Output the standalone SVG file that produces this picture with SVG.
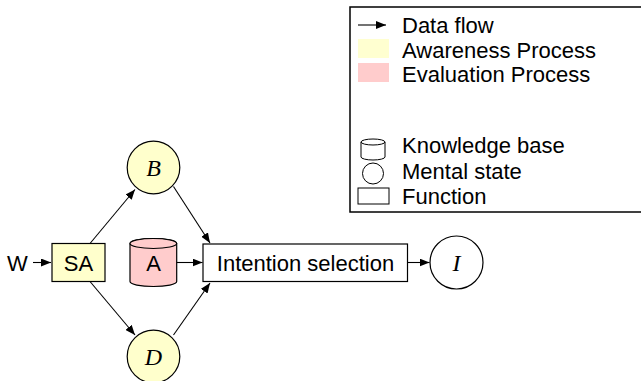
<svg xmlns="http://www.w3.org/2000/svg" width="641" height="381" viewBox="0 0 641 381">
<defs>
<marker id="ah" viewBox="0 0 10 8" refX="10" refY="4" markerWidth="10" markerHeight="8" markerUnits="userSpaceOnUse" orient="auto">
<path d="M0,0 L10,4 L0,8 Z" fill="#000"/>
</marker>
</defs>
<style>
text{font-family:"Liberation Sans",Arial,sans-serif;font-size:22px;fill:#000}
.m{font-family:"Liberation Serif","DejaVu Serif",serif;font-style:italic;font-size:24px;text-anchor:middle}
.c{text-anchor:middle}
.sh{stroke:#000;stroke-width:1.2}
.y{fill:#ffffcc}
.p{fill:#ffcccc}
.w{fill:#fff}
.e{stroke:#000;stroke-width:1.1;fill:none;marker-end:url(#ah)}
</style>
<rect width="641" height="381" fill="#fff"/>
<g id="legend">
<rect x="350" y="7" width="300" height="205" fill="#fff" stroke="#000" stroke-width="1.5"/>
<line x1="358" y1="25" x2="386" y2="25" class="e"/>
<text x="402" y="33">Data flow</text>
<rect x="358" y="39" width="31" height="19" fill="#ffffd0"/>
<text x="402" y="57.5">Awareness Process</text>
<rect x="358" y="63" width="31" height="19" fill="#ffcccc"/>
<text x="402" y="82">Evaluation Process</text>
<path d="M361,142 L361,157 A12,3 0 0 0 385,157 L385,142 A12,3 0 0 0 361,142 A12,3 0 0 0 385,142" fill="#fff" stroke="#000" stroke-width="1"/>
<text x="402" y="153">Knowledge base</text>
<circle cx="373" cy="173.5" r="10.5" fill="#fff" stroke="#000" stroke-width="1"/>
<text x="402" y="179">Mental state</text>
<rect x="358" y="188" width="31" height="16" fill="#fff" stroke="#000" stroke-width="1"/>
<text x="402" y="204">Function</text>
</g>
<g id="W"><text x="7" y="270.5">W</text></g>
<g id="SA"><rect x="52" y="243.5" width="53" height="38" class="sh y"/><text x="78.5" y="270.5" class="c">SA</text></g>
<g id="B"><circle cx="153.5" cy="167.5" r="26.3" class="sh y"/><text x="153.5" y="175.5" class="m">B</text></g>
<g id="D"><circle cx="153.5" cy="356.5" r="26.3" class="sh y"/><text x="153.5" y="364.5" class="m">D</text></g>
<g id="A"><path d="M130,243.5 L130,281.5 A23.3,5 0 0 0 176.7,281.5 L176.7,243.5 A23.3,5 0 0 0 130,243.5 Z" class="sh p"/><ellipse cx="153.35" cy="243.5" rx="23.35" ry="5" class="sh p"/><text x="153.5" y="271" class="c">A</text></g>
<g id="IS"><rect x="203" y="244" width="204.5" height="37.5" class="sh w"/><text x="305.5" y="271" class="c">Intention selection</text></g>
<g id="I"><circle cx="456.5" cy="262.5" r="26.5" class="sh w"/><text x="456.5" y="270.5" class="m">I</text></g>
<g id="connectors">
<line x1="33" y1="262.5" x2="51" y2="262.5" class="e"/>
<line x1="90" y1="243.5" x2="135" y2="189.5" class="e"/>
<line x1="90" y1="281.5" x2="135" y2="335" class="e"/>
<line x1="173.5" y1="186.5" x2="210" y2="243" class="e"/>
<line x1="173.5" y1="335" x2="210" y2="283" class="e"/>
<line x1="176.7" y1="262.5" x2="202.5" y2="262.5" class="e"/>
<line x1="407.5" y1="262.5" x2="429.5" y2="262.5" class="e"/>
</g>
</svg>
